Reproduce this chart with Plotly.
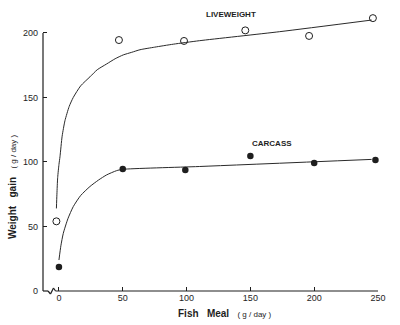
import plotly.graph_objects as go

# Observed data points
live_x = [-2, 47, 98, 146, 196, 246]
live_y = [54, 194.5, 193.8, 202, 197.7, 211.5]
carc_x = [0, 50, 99, 150, 200, 248]
carc_y = [18.6, 94.6, 93.8, 104.7, 99.2, 101.6]

# Fitted curves
live_curve_x = [-2, -1.6, -1, 0, 0.8, 2.5, 4.7, 8, 11.2, 17, 24.3, 30, 37.4, 44, 50.4, 57, 63.5, 75, 89.6, 110, 173, 245]
live_curve_y = [64, 75, 88, 98, 104, 120, 132, 143, 150, 159, 166, 171.5, 176, 180, 183, 185, 187, 189, 191.3, 194, 201, 210]
carc_curve_x = [0, 1.5, 3.4, 7, 11.2, 17, 24.3, 31, 37.4, 45.2, 50, 110, 245]
carc_curve_y = [24, 35, 44.7, 56, 65.4, 74, 81, 86, 90, 93.3, 94.3, 96.5, 102]

x_ticks = [0, 50, 100, 150, 200, 250]
y_ticks = [0, 50, 100, 150, 200]

INK = "#1e1e1e"
LINE = "#2a2a2a"
FONT = "Liberation Sans, Arial, sans-serif"

Y_MAX = 224.0
PLOT_H = 289.0
PLOT_W = 335.0

fig = go.Figure()
fig.add_trace(go.Scatter(x=live_curve_x, y=live_curve_y, mode="lines",
                         line=dict(color=LINE, width=1, shape="spline", smoothing=0.6),
                         hoverinfo="skip", showlegend=False))
fig.add_trace(go.Scatter(x=carc_curve_x, y=carc_curve_y, mode="lines",
                         line=dict(color=LINE, width=1, shape="spline", smoothing=0.6),
                         hoverinfo="skip", showlegend=False))
fig.add_trace(go.Scatter(x=live_x, y=live_y, mode="markers", name="Liveweight",
                         marker=dict(symbol="circle-open", size=7, color=INK, line=dict(width=1, color=INK)),
                         cliponaxis=False, showlegend=False))
fig.add_trace(go.Scatter(x=carc_x, y=carc_y, mode="markers", name="Carcass",
                         marker=dict(symbol="circle", size=6.5, color=INK),
                         cliponaxis=False, showlegend=False))

fig.update_layout(
    width=400, height=325,
    margin=dict(l=43, r=22, t=2, b=34),
    paper_bgcolor="white", plot_bgcolor="white",
    font=dict(family=FONT, color=INK),
    xaxis=dict(range=[-12.5, 250], showgrid=False, zeroline=False, showline=False,
               tickmode="array", tickvals=x_ticks, ticktext=[str(v) for v in x_ticks],
               ticks="inside", ticklen=4, tickwidth=1, tickcolor=INK,
               tickfont=dict(size=9, color=INK, family=FONT)),
    yaxis=dict(range=[0, Y_MAX], showgrid=False, zeroline=False, showline=False,
               tickmode="array", tickvals=y_ticks, ticktext=[str(v) for v in y_ticks],
               ticks="inside", ticklen=4, tickwidth=1, tickcolor=INK,
               ticklabelstandoff=4,
               tickfont=dict(size=9, color=INK, family=FONT)),
)

def px(p):
    return (p - 43) / PLOT_W

def py(d):
    return d / PLOT_H

# y axis line (up to 200 only)
fig.add_shape(type="line", xref="paper", yref="paper", x0=0, y0=0, x1=0, y1=200 / Y_MAX,
              line=dict(color=INK, width=1.2))

# x axis line with break
segs = [
    (px(43), 0, px(48), 0),
    (px(48), 0, px(50.5), py(-3)),
    (px(50.5), py(-3), px(53.5), py(3)),
    (px(53.5), py(3), px(55.5), 0),
    (px(55.5), 0, 1, 0),
]
for x0, y0, x1, y1 in segs:
    fig.add_shape(type="line", xref="paper", yref="paper", x0=x0, y0=y0, x1=x1, y1=y1,
                  line=dict(color=INK, width=1.2))

# series labels
fig.add_annotation(x=134.8, y=214, xref="x", yref="y", text="<b>LIVEWEIGHT</b>",
                   showarrow=False, xanchor="center", yanchor="middle",
                   font=dict(size=8, color=INK, family=FONT))
fig.add_annotation(x=167, y=114.7, xref="x", yref="y", text="<b>CARCASS</b>",
                   showarrow=False, xanchor="center", yanchor="middle",
                   font=dict(size=8, color=INK, family=FONT))

# axis titles
fig.add_annotation(x=px(225), y=py(-22), xref="paper", yref="paper",
                   xanchor="center", yanchor="middle",
                   text="<b>Fish   Meal</b>   <span style='font-size:8px'>( g / day )</span>",
                   showarrow=False, font=dict(size=10, color=INK, family=FONT))
fig.add_annotation(x=px(12), y=py(104), xref="paper", yref="paper",
                   xanchor="center", yanchor="middle",
                   text="<b>Weight   gain</b>   <span style='font-size:8px'>( g / day )</span>",
                   textangle=-90, showarrow=False, font=dict(size=10, color=INK, family=FONT))

fig.write_html("out.html")
